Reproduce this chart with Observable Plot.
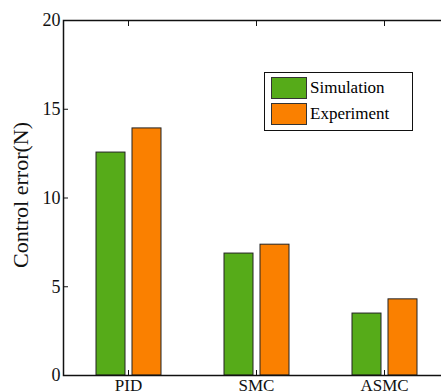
<!DOCTYPE html>
<html>
<head>
<meta charset="utf-8">
<script src="https://cdn.jsdelivr.net/npm/d3@7"></script>
<script src="https://cdn.jsdelivr.net/npm/@observablehq/plot@0.6"></script>
<style>
  body { margin: 0; background: white; overflow: hidden; }
  #wrap { position: relative; width: 441px; height: 391px; overflow: hidden; }
  #wrap svg, #wrap svg text { font-family: "Liberation Serif", "Times New Roman", serif !important; }
  #legend { position: absolute; left: 264px; top: 72px; width: 147px; height: 57px;
    border: 1px solid #111; background: white; font-family: "Liberation Serif", "Times New Roman", serif; font-size: 17px; }
  .row { position: absolute; left: 6px; height: 21px; display: flex; align-items: center; }
  .sw { width: 34px; height: 20px; border: 1px solid #333; margin-right: 3px; }
</style>
</head>
<body>
<div id="wrap"></div>
<script>
const categories = ["PID", "SMC", "ASMC"];
const seriesNames = ["Simulation", "Experiment"];
const simulation = [12.56, 6.87, 3.49];
const experiment = [13.92, 7.37, 4.29];
const colors = ["#56AB19", "#FA8000"];
const yTicks = [0, 5, 10, 15, 20];

const data = [];
categories.forEach((c, i) => {
  data.push({category: c, series: seriesNames[0], value: simulation[i]});
  data.push({category: c, series: seriesNames[1], value: experiment[i]});
});

const font = "'Liberation Serif', 'Times New Roman', serif";

const chart = Plot.plot({
  width: 441,
  height: 391,
  marginLeft: 63,
  marginTop: 20,
  marginBottom: 16,
  marginRight: -7,
  style: {fontFamily: font, background: "white", color: "black"},
  x: {type: "band", domain: categories, padding: 0, label: null},
  y: {domain: [0, 20], label: null},
  color: {domain: seriesNames, range: colors},
  marks: [
    Plot.barY(data.filter(d => d.series === seriesNames[0]), {
      x: "category", y: "value", fill: "series", stroke: "#222", strokeWidth: 1,
      insetLeft: 32, insetRight: 67
    }),
    Plot.barY(data.filter(d => d.series === seriesNames[1]), {
      x: "category", y: "value", fill: "series", stroke: "#222", strokeWidth: 1,
      insetLeft: 68, insetRight: 31
    }),
    Plot.frame({stroke: "#111", strokeWidth: 1.5}),
    // inward ticks
    Plot.axisX({anchor: "bottom", tickSize: 5, dy: -5, tickFormat: () => "", stroke: "#111"}),
    Plot.axisX({anchor: "top", tickSize: 5, dy: 5, tickFormat: () => "", stroke: "#111"}),
    Plot.axisY({anchor: "left", ticks: yTicks, tickSize: 5, dx: 5, tickFormat: () => "", stroke: "#111"}),
    // labels
    Plot.axisX({anchor: "bottom", tickSize: 0, tickPadding: 3, fontSize: 17, fontFamily: font, fill: "#111", label: null}),
    Plot.axisY({anchor: "left", ticks: yTicks, tickSize: 0, tickPadding: 3, fontSize: 18, fontFamily: font, fill: "#111", label: null}),
    Plot.text(["Control error(N)"], {frameAnchor: "left", rotate: -90, dx: -43, dy: 70, fontSize: 22, fontFamily: font, fill: "#111"})
  ]
});

const wrap = document.getElementById("wrap");
wrap.appendChild(chart);

const legend = document.createElement("div");
legend.id = "legend";
seriesNames.forEach((name, i) => {
  const row = document.createElement("div");
  row.className = "row";
  row.style.top = (4 + i * 26) + "px";
  const sw = document.createElement("div");
  sw.className = "sw";
  sw.style.background = colors[i];
  const label = document.createElement("span");
  label.textContent = name;
  row.appendChild(sw);
  row.appendChild(label);
  legend.appendChild(row);
});
wrap.appendChild(legend);
</script>
</body>
</html>
